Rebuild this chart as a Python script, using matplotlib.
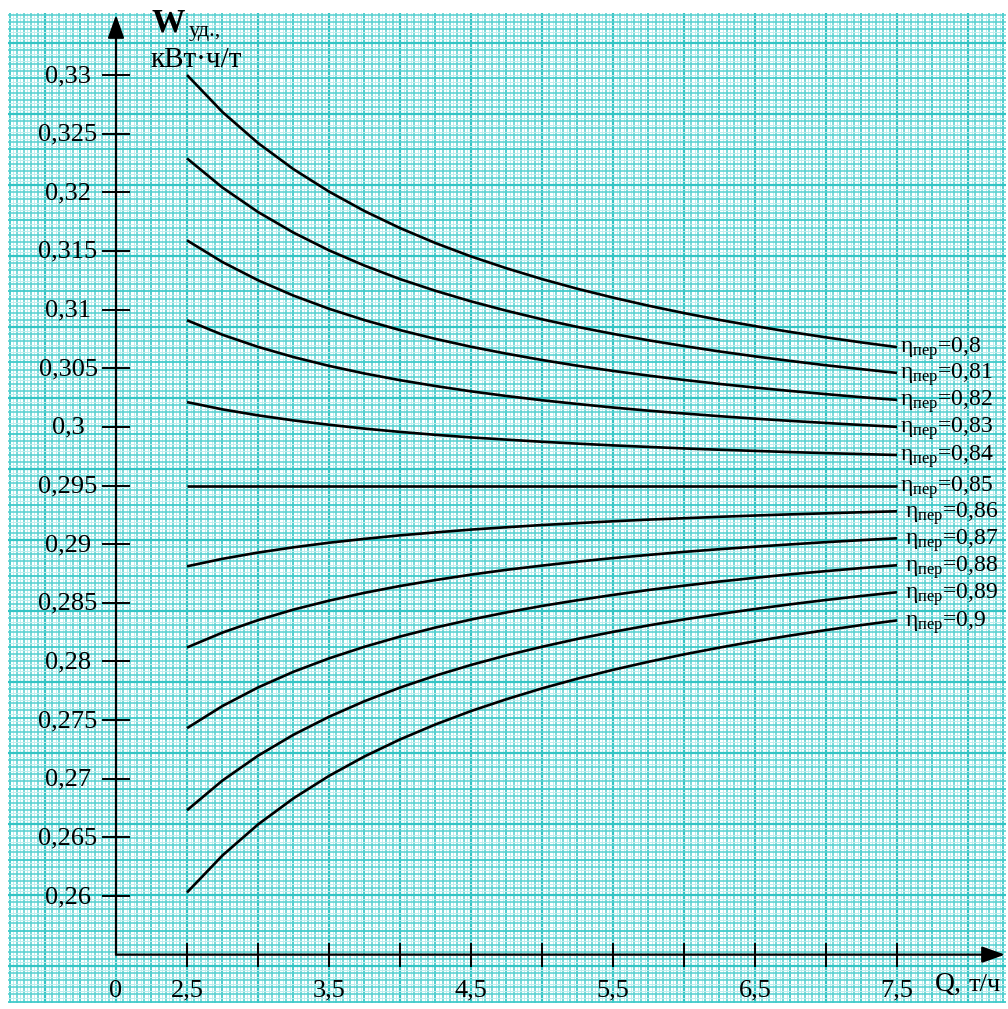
import numpy as np
import matplotlib.pyplot as plt
import matplotlib.transforms as mtransforms

plt.rcParams['font.family'] = ['Liberation Serif', 'DejaVu Serif']
plt.rcParams['mathtext.fontset'] = 'custom'
plt.rcParams['mathtext.rm'] = 'Liberation Serif'
plt.rcParams['mathtext.it'] = 'Liberation Serif:italic'

# Q, t/h
q = [2.5, 2.75, 3.0, 3.25, 3.5, 3.75, 4.0, 4.25, 4.5, 4.75, 5.0,
     5.25, 5.5, 5.75, 6.0, 6.25, 6.5, 6.75, 7.0, 7.25, 7.5]

# W_ud, kWh/t for each transmission efficiency
w_080 = [0.33000, 0.32684, 0.32420, 0.32197, 0.32006, 0.31840, 0.31695, 0.31567, 0.31453, 0.31352, 0.31260,
         0.31177, 0.31102, 0.31033, 0.30970, 0.30912, 0.30859, 0.30809, 0.30763, 0.30720, 0.30680]
w_081 = [0.32289, 0.32040, 0.31832, 0.31656, 0.31505, 0.31375, 0.31260, 0.31160, 0.31070, 0.30990, 0.30917,
         0.30852, 0.30793, 0.30738, 0.30689, 0.30643, 0.30601, 0.30562, 0.30525, 0.30492, 0.30460]
w_082 = [0.31590, 0.31405, 0.31250, 0.31119, 0.31007, 0.30910, 0.30825, 0.30750, 0.30683, 0.30624, 0.30570,
         0.30521, 0.30477, 0.30437, 0.30400, 0.30366, 0.30335, 0.30306, 0.30279, 0.30253, 0.30230]
w_083 = [0.30909, 0.30785, 0.30682, 0.30595, 0.30520, 0.30455, 0.30398, 0.30348, 0.30303, 0.30263, 0.30227,
         0.30195, 0.30165, 0.30138, 0.30114, 0.30091, 0.30070, 0.30051, 0.30033, 0.30016, 0.30000]
w_084 = [0.30211, 0.30149, 0.30098, 0.30055, 0.30018, 0.29985, 0.29957, 0.29932, 0.29910, 0.29891, 0.29873,
         0.29857, 0.29842, 0.29829, 0.29816, 0.29805, 0.29795, 0.29785, 0.29776, 0.29768, 0.29760]
w_085 = [0.29500, 0.29500, 0.29500, 0.29500, 0.29500, 0.29500, 0.29500, 0.29500, 0.29500, 0.29500, 0.29500,
         0.29500, 0.29500, 0.29500, 0.29500, 0.29500, 0.29500, 0.29500, 0.29500, 0.29500, 0.29500]
w_086 = [0.28811, 0.28875, 0.28928, 0.28973, 0.29012, 0.29045, 0.29075, 0.29100, 0.29124, 0.29144, 0.29163,
         0.29179, 0.29195, 0.29209, 0.29221, 0.29233, 0.29244, 0.29254, 0.29263, 0.29272, 0.29280]
w_087 = [0.28119, 0.28246, 0.28352, 0.28442, 0.28518, 0.28585, 0.28643, 0.28694, 0.28740, 0.28781, 0.28817,
         0.28851, 0.28881, 0.28908, 0.28934, 0.28957, 0.28978, 0.28998, 0.29017, 0.29034, 0.29050]
w_088 = [0.27431, 0.27620, 0.27778, 0.27912, 0.28026, 0.28125, 0.28212, 0.28289, 0.28357, 0.28418, 0.28473,
         0.28522, 0.28567, 0.28609, 0.28646, 0.28681, 0.28713, 0.28743, 0.28770, 0.28796, 0.28820]
w_089 = [0.26731, 0.26985, 0.27196, 0.27375, 0.27528, 0.27661, 0.27777, 0.27879, 0.27970, 0.28052, 0.28125,
         0.28192, 0.28252, 0.28307, 0.28358, 0.28404, 0.28447, 0.28487, 0.28524, 0.28558, 0.28590]
w_090 = [0.26030, 0.26346, 0.26610, 0.26833, 0.27024, 0.27190, 0.27335, 0.27463, 0.27577, 0.27678, 0.27770,
         0.27853, 0.27928, 0.27997, 0.28060, 0.28118, 0.28172, 0.28221, 0.28267, 0.28310, 0.28350]

series = [w_080, w_081, w_082, w_083, w_084, w_085, w_086, w_087, w_088, w_089, w_090]
eta_labels = ['0,8', '0,81', '0,82', '0,83', '0,84', '0,85', '0,86', '0,87', '0,88', '0,89', '0,9']

y_ticks = [0.26, 0.265, 0.27, 0.275, 0.28, 0.285, 0.29, 0.295, 0.3, 0.305, 0.31, 0.315, 0.32, 0.325, 0.33]
y_tick_labels = ['0,26', '0,265', '0,27', '0,275', '0,28', '0,285', '0,29', '0,295', '0,3', '0,305',
                 '0,31', '0,315', '0,32', '0,325', '0,33']
x_ticks = [2.5, 3.0, 3.5, 4.0, 4.5, 5.0, 5.5, 6.0, 6.5, 7.0, 7.5]
x_tick_labels = {2.5: '2,5', 3.5: '3,5', 4.5: '4,5', 5.5: '5,5', 6.5: '6,5', 7.5: '7,5'}

W, H = 1008, 1009
fig = plt.figure(figsize=(W / 100, H / 100), dpi=100)

# graph paper background, in pixel units
gx0, gx1, gy0, gy1 = 8, 1006, 13, 1003
bg = fig.add_axes([gx0 / W, 1 - gy1 / H, (gx1 - gx0) / W, (gy1 - gy0) / H])
bg.set_xlim(gx0, gx1)
bg.set_ylim(gy1, gy0)
bg.axis('off')
step = 3.55
for ref, lim0, lim1, vertical in [(116, gx0, gx1, True), (43, gy0, gy1, False)]:
    k = np.arange(int((lim0 - ref) / step) - 1, int((lim1 - ref) / step) + 2)
    pos = ref + k * step
    keep = (pos >= lim0) & (pos <= lim1)
    pos, k = pos[keep], k[keep]
    groups = [
        (k % 2 == 1, '#bdeeee', 0.7),
        ((k % 2 == 0) & (k % 10 != 0), '#55d0d0', 1.1),
        ((k % 10 == 0) & (k % 20 != 0), '#40caca', 1.3),
        (k % 20 == 0, '#33c4c4', 1.6),
    ]
    for mask, col, lw in groups:
        if vertical:
            bg.vlines(pos[mask], gy0, gy1, colors=col, lw=lw)
        else:
            bg.hlines(pos[mask], gx0, gx1, colors=col, lw=lw)

# main axes filling the whole figure, data coordinates
ax = fig.add_axes([0, 0, 1, 1])
ax.patch.set_alpha(0)
ax.axis('off')
ax.set_xlim(2 - 116 / 142, 2 + 892 / 142)
ax.set_ylim(0.26 - 113 / 11728.6, 0.33 + 75 / 11728.6)

x_org, y_org = 2.0, 0.255

arrow = dict(arrowstyle='-|>,head_length=0.7,head_width=0.25', mutation_scale=20,
             lw=1.6, color='black', shrinkA=0, shrinkB=0)
ax.annotate('', xy=(x_org, 0.33 + 60 / 11728.6), xytext=(x_org, y_org), arrowprops=arrow)
ax.annotate('', xy=(x_org + 889 / 142, y_org), xytext=(x_org, y_org), arrowprops=arrow)

dx_tick = 14 / 142
dy_tick = 12 / 11728.6
ax.hlines(y_ticks, x_org - dx_tick, x_org + dx_tick, colors='black', lw=1.4)
ax.vlines(x_ticks, y_org - dy_tick, y_org + dy_tick, colors='black', lw=1.4)

down = lambda px: mtransforms.offset_copy(ax.transData, fig=fig, x=0, y=-px * 0.72, units='points')
right = lambda px, py: mtransforms.offset_copy(ax.transData, fig=fig, x=px * 0.72, y=-py * 0.72, units='points')

x_lab = 2 - 48 / 142
for v, lab in zip(y_ticks, y_tick_labels):
    ax.text(x_lab, v, lab, ha='center', va='baseline', fontsize=19, transform=down(7))

for v, lab in x_tick_labels.items():
    ax.text(v, y_org, lab, ha='center', va='baseline', fontsize=19, transform=down(42))
ax.text(x_org, y_org, '0', ha='center', va='baseline', fontsize=19, transform=down(42))

for i, (w, lab) in enumerate(zip(series, eta_labels)):
    ax.plot(q, w, color='black', lw=1.9, solid_capstyle='butt', solid_joinstyle='round')
    off = 3 if i <= 5 else 8
    ax.text(q[-1], w[-1], 'η$_{\\mathrm{пер}}$=' + lab, ha='left', va='baseline',
            fontsize=17, transform=right(off, 6))

# axis titles in pixel positions
px = lambda x, y: (x / W, 1 - y / H)
fig.text(*px(152, 32), 'W', fontsize=24, fontweight='bold', ha='left', va='baseline')
fig.text(*px(189, 36), 'уд.,', fontsize=16, ha='left', va='baseline')
fig.text(*px(151, 67), 'кВт·ч/т', fontsize=21, ha='left', va='baseline')
fig.text(*px(935, 991), 'Q,', fontsize=20, ha='left', va='baseline')
fig.text(*px(969, 991), 'т/ч', fontsize=19, ha='left', va='baseline')

fig.savefig('out.png', dpi=100)
